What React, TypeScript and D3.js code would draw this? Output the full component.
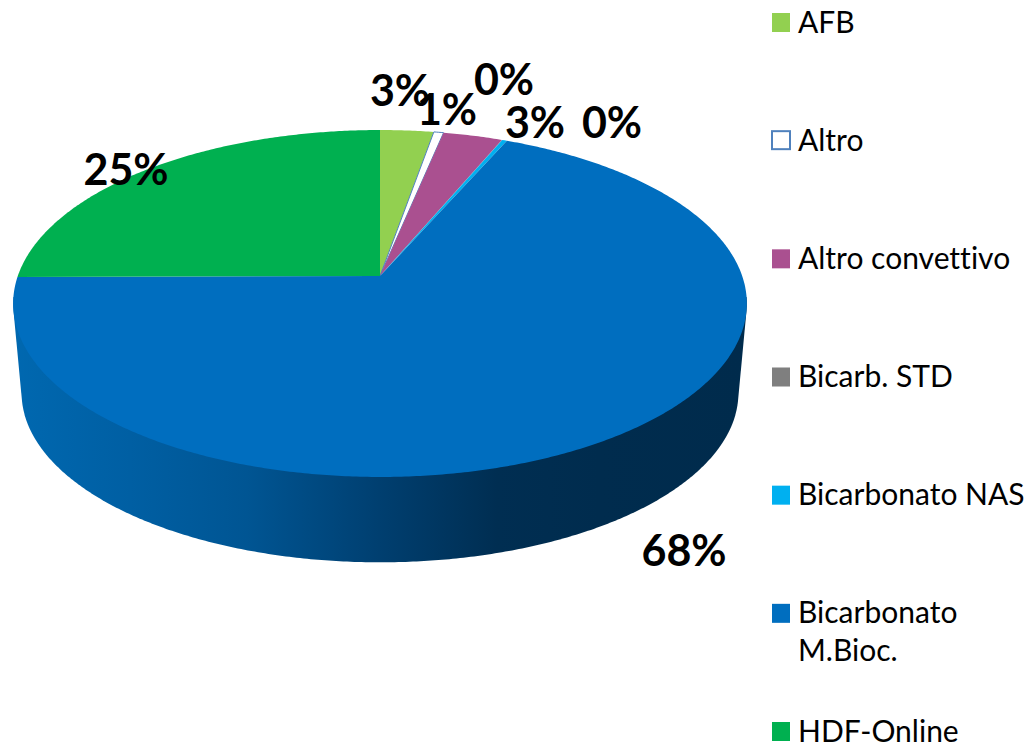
import React from "react";
import * as d3 from "d3";

const categories = ["AFB", "Altro", "Altro convettivo", "Bicarb. STD", "Bicarbonato NAS", "Bicarbonato M.Bioc.", "HDF-Online"];
const values = [2.75, 0.5, 3.05, 0.02, 0.25, 68.33, 25.1];
const colors = ["#92D050", "#FFFFFF", "#AA5090", "#7F7F7F", "#00B0F0", "#006EBF", "#00B050"];

// label anchor (centre x, baseline y) per slice, in the order of categories
const labelX = [400, 447, 535, 504, 612, 684, 126];
const labelY = [106, 125, 138, 95, 138, 566, 185];

const W = 1028;
const H = 745;
const apex = { x: 380, y: 276 };
const A = 362.2;
const B = 169.1;
const K = 0.1585;
const wallScale = 0.977;
const wallDrop = 90;

type Pt = [number, number];
// perspective view of a point on the unit disc: angle clockwise from 12 o'clock
const project = (theta: number, r = 1, scale = 1, dy = 0): Pt => {
  const u = r * Math.sin(theta);
  const v = -r * Math.cos(theta);
  const d = 1 - K * v;
  return [apex.x + (scale * A * u) / d, apex.y + dy + (scale * B * v) / d];
};

const pie = d3.pie<number>().sort(null).value((d) => d).startAngle(0).endAngle(2 * Math.PI);
const arcs = pie(values);
const line = d3.line<Pt>().curve(d3.curveLinear);

const slicePath = (a0: number, a1: number) => {
  const n = Math.max(2, Math.ceil(((a1 - a0) / (2 * Math.PI)) * 720));
  const pts: Pt[] = [[apex.x, apex.y]];
  d3.range(n + 1).forEach((i) => pts.push(project(a0 + ((a1 - a0) * i) / n)));
  return line(pts) + "Z";
};

const rimAngles = d3.range(0, 720).map((i) => (i / 720) * 2 * Math.PI).filter((t) => -Math.cos(t) > 0.12);
const wallPts = rimAngles.flatMap((t) => [project(t), project(t, 1, wallScale, wallDrop)]);
const wallPath = line(d3.polygonHull(wallPts) as Pt[]) + "Z";

const wallOffsets = [0, 0.16, 0.32, 0.5, 0.66, 0.8, 1];
const wallColors = ["#0068B0", "#005FA3", "#005593", "#003F70", "#002E52", "#002C4E", "#002B4C"];

const legendY = d3.scalePoint<string>().domain(categories).range([22.5, 731.5]);
const legendLines = (c: string) => (c === "Bicarbonato M.Bioc." ? ["Bicarbonato", "M.Bioc."] : [c]);
const pct = (v: number) => `${Math.round(v)}%`;
const font = "Lato, 'Open Sans', sans-serif";

export default function App() {
  return (
    <svg width={W} height={H} viewBox={`0 0 ${W} ${H}`} style={{ position: "fixed", left: 0, top: 0, background: "#fff" }}>
      <defs>
        <linearGradient id="wall" gradientUnits="userSpaceOnUse" x1={13} x2={746} y1={0} y2={0}>
          {wallOffsets.map((o, i) => (
            <stop key={o} offset={o} stopColor={wallColors[i]} />
          ))}
        </linearGradient>
      </defs>
      <path d={wallPath} fill="url(#wall)" />
      {arcs.map((a, i) => (
        <path
          key={categories[i]}
          d={slicePath(a.startAngle, a.endAngle)}
          fill={colors[i]}
          stroke={categories[i] === "Altro" ? "#4F81BD" : "none"}
          strokeWidth={1}
        />
      ))}
      {arcs.map((a, i) => (
        <text key={categories[i]} x={labelX[i]} y={labelY[i]} textAnchor="middle" fontFamily={font} fontWeight={700} fontSize={43} fill="#000">
          {pct(values[i])}
        </text>
      ))}
      {categories.map((c, i) => {
        const y = legendY(c) as number;
        const outlined = c === "Altro";
        return (
          <g key={c}>
            <rect
              x={772}
              y={y - 9.5}
              width={18}
              height={outlined ? 18 : 19}
              fill={colors[i]}
              stroke={outlined ? "#4F81BD" : "none"}
              strokeWidth={outlined ? 2 : 0}
            />
            {legendLines(c).map((t, j) => (
              <text key={t} x={798} y={y + 10 + j * 38} fontFamily={font} fontSize={30} style={{ fontVariantLigatures: "none" }} fill="#000">
                {t}
              </text>
            ))}
          </g>
        );
      })}
    </svg>
  );
}
